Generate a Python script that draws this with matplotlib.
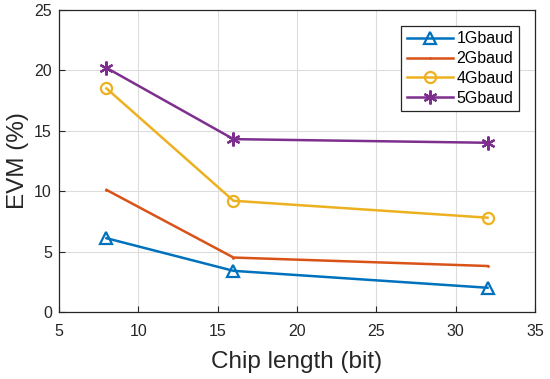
import matplotlib
matplotlib.use("Agg")
import matplotlib.pyplot as plt

plt.rcParams['font.family'] = ['Liberation Sans', 'DejaVu Sans']

# chip length (bit)
chip = [8, 16, 32]
evm_1g = [6.1, 3.4, 2.0]
evm_2g = [10.1, 4.5, 3.8]
evm_4g = [18.5, 9.2, 7.8]
evm_5g = [20.2, 14.3, 14.0]

fig = plt.figure(figsize=(5.5, 3.79), dpi=100)
ax = fig.add_axes([0.107, 0.177, 0.866, 0.797])

asterisk = (6, 2, 0)
ax.plot(chip, evm_1g, color='#0072BD', lw=1.8, marker='^', ms=8, mfc='none', mew=1.6, label='1Gbaud')
ax.plot(chip, evm_2g, color='#D95319', lw=1.8, marker='.', ms=2, label='2Gbaud')
ax.plot(chip, evm_4g, color='#EDB120', lw=1.8, marker='o', ms=8, mfc='none', mew=1.6, label='4Gbaud')
ax.plot(chip, evm_5g, color='#7E2F8E', lw=1.8, marker=asterisk, ms=10, mew=1.6, label='5Gbaud')

ax.set_xlim(5, 35)
ax.set_ylim(0, 25)
ax.set_xticks(range(5, 36, 5))
ax.set_yticks(range(0, 26, 5))
ax.grid(True, color='#dcdcdc', lw=0.8)
ax.set_axisbelow(True)
ax.tick_params(direction='in', labelsize=11.5, colors='#262626', length=4)
ax.tick_params(axis='x', pad=9)
ax.tick_params(axis='y', pad=5)
for s in ax.spines.values():
    s.set_color('#262626')
    s.set_linewidth(0.9)

ax.set_xlabel('Chip length (bit)', fontsize=17.5, color='#262626', labelpad=8)
ax.set_ylabel('EVM (%)', fontsize=17.5, color='#262626', labelpad=4)

leg = ax.legend(loc='upper right', bbox_to_anchor=(0.966, 0.947), fontsize=11.5, fancybox=False,
                framealpha=1, edgecolor='#262626', handlelength=2.9, borderpad=0.35,
                labelspacing=0.3, handletextpad=0.2, borderaxespad=0)
leg.get_frame().set_linewidth(0.9)

fig.savefig('out.png', dpi=100)
